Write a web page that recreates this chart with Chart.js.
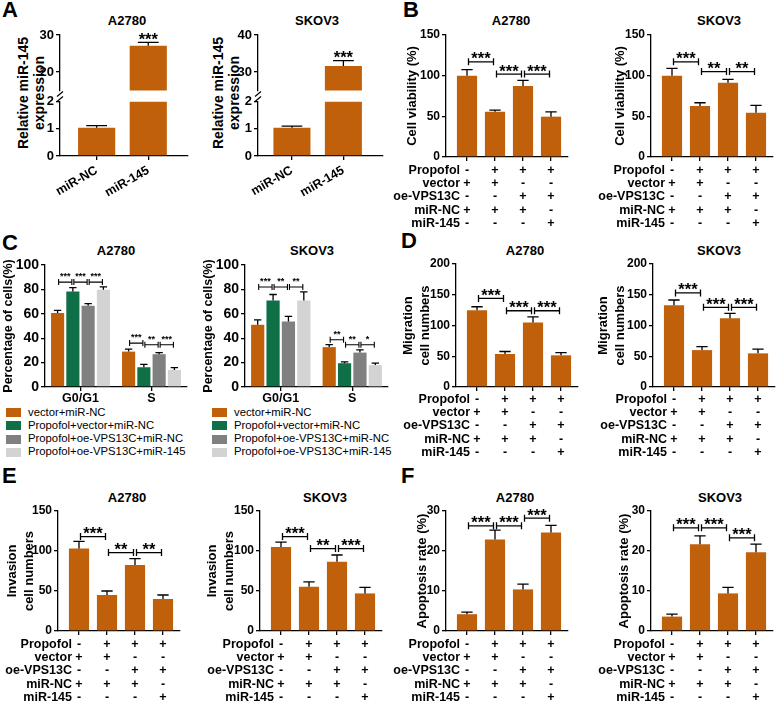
<!DOCTYPE html>
<html lang="en">
<head>
<meta charset="UTF-8" />
<title>Propofol / VPS13C / miR-145</title>
<script src="https://cdn.jsdelivr.net/npm/chart.js"></script>
<style>
  body { margin: 0; background: #fff; overflow: hidden; }
  #fig { position: relative; width: 778px; height: 702px; font-family: 'Liberation Sans', Arial, sans-serif; color: #000; }
  #fig canvas { position: absolute; }
  .t { position: absolute; white-space: nowrap; line-height: 1; font-weight: bold; }
</style>
</head>
<body>
<div id="fig"></div>
<script>
// ---------- data ----------
const ORANGE = '#C1600B';

// A: relative miR-145 expression (broken axis)
const aCats = ['miR-NC', 'miR-145'];
const aA2780 = [1.04, 27.1];
const aA2780Err = [0.08, 0.9];
const aSKOV3 = [1.04, 31.6];
const aSKOV3Err = [0.06, 1.5];
const aStars = ['', '***'];

// treatment table under B, D, E, F
const rowNames = ['Propofol', 'vector', 'oe-VPS13C', 'miR-NC', 'miR-145'];
const tableRows = [
  ['-', '+', '+', '+'],
  ['+', '+', '-', '-'],
  ['-', '-', '+', '+'],
  ['+', '+', '+', '-'],
  ['-', '-', '-', '+']
];

// B: cell viability
const bA2780 = [100, 55.7, 87.3, 49.6];
const bA2780Err = [7.5, 2, 7, 6];
const bSKOV3 = [100, 62.7, 91.4, 54.5];
const bSKOV3Err = [9, 4, 4, 9];
const bA2780Sig = [[0, 1, 117, '***'], [1, 2, 102, '***'], [2, 3, 102, '***']];
const bSKOV3Sig = [[0, 1, 117, '***'], [1, 2, 105, '**'], [2, 3, 105, '**']];

// C: cell cycle
const cPhases = ['G0/G1', 'S'];
const cGroups = ['vector+miR-NC', 'Propofol+vector+miR-NC', 'Propofol+oe-VPS13C+miR-NC', 'Propofol+oe-VPS13C+miR-145'];
const cColors = ['#C1600B', '#0F6F47', '#808080', '#D3D3D3'];
const cA2780 = [[60.6, 29], [78.2, 16.2], [66.7, 26.9], [79.8, 14]];
const cA2780Err = [[2.2, 2], [3.3, 2.4], [1.6, 1.3], [2.2, 1.9]];
const cSKOV3 = [[51, 32.7], [70.8, 19.5], [53.7, 28.2], [70.8, 18]];
const cSKOV3Err = [[4, 2], [5, 1.1], [4.2, 2.3], [7.2, 1.5]];
// [phase, group a, group b, y, label]
const cA2780Sig = [[0, 0, 1, 86, '***'], [0, 1, 2, 86, '***'], [0, 2, 3, 86, '***'],
                   [1, 0, 1, 36, '***'], [1, 1, 2, 34.6, '**'], [1, 2, 3, 34.6, '***']];
const cSKOV3Sig = [[0, 0, 1, 82, '***'], [0, 1, 2, 82, '**'], [0, 2, 3, 82, '**'],
                   [1, 0, 1, 38.7, '**'], [1, 1, 2, 34.6, '**'], [1, 2, 3, 34.6, '*']];

// D: migration
const dA2780 = [125, 53.7, 105, 51.5];
const dA2780Err = [5.5, 4, 9, 4.5];
const dSKOV3 = [133, 60, 111.7, 54.7];
const dSKOV3Err = [8.5, 5.5, 8, 7];
const dA2780Sig = [[0, 1, 144, '***'], [1, 2, 124, '***'], [2, 3, 124, '***']];
const dSKOV3Sig = [[0, 1, 153, '***'], [1, 2, 129.6, '***'], [2, 3, 129.6, '***']];

// E: invasion
const eA2780 = [103, 45, 82.5, 40];
const eA2780Err = [9, 5, 8, 5];
const eSKOV3 = [105, 55.4, 86.7, 47];
const eSKOV3Err = [6, 6, 8.3, 7.5];
const eA2780Sig = [[0, 1, 118, '***'], [1, 2, 98, '**'], [2, 3, 98, '**']];
const eSKOV3Sig = [[0, 1, 118, '***'], [1, 2, 103, '**'], [2, 3, 103, '***']];

// F: apoptosis
const fA2780 = [4.2, 22.9, 10.4, 24.6];
const fA2780Err = [0.5, 2.3, 1.3, 1.8];
const fSKOV3 = [3.6, 21.7, 9.4, 19.7];
const fSKOV3Err = [0.6, 2.1, 1.5, 2];
const fA2780Sig = [[0, 1, 26.3, '***'], [1, 2, 26.3, '***'], [2, 3, 28.2, '***']];
const fSKOV3Sig = [[0, 1, 25.8, '***'], [1, 2, 25.8, '***'], [2, 3, 23.3, '***']];

// ---------- setup ----------
const FONT = "'Liberation Sans', Arial, sans-serif";
const TABLE_SIZE = 12.5;
const TABLE_LH = 1.072;
const bigStar = { font: 'bold 16.5px ' + FONT, dy: 2.5, tick: 3.5, inset: 1.5, lw: 1.3 };
const smallStar = { font: 'bold 9px ' + FONT, dy: -3, tick: 3, inset: 1, lw: 1.1 };

Chart.defaults.font.family = FONT;
Chart.defaults.font.weight = 'bold';
Chart.defaults.color = '#000';
Chart.defaults.animation = false;
Chart.defaults.responsive = false;
Chart.defaults.plugins.legend.display = false;
Chart.defaults.plugins.tooltip.enabled = false;

const fig = document.getElementById('fig');

function addCanvas(left, top, w, h) {
  const c = document.createElement('canvas');
  c.width = w;
  c.height = h;
  c.style.left = left + 'px';
  c.style.top = top + 'px';
  c.style.width = w + 'px';
  c.style.height = h + 'px';
  fig.appendChild(c);
  return c;
}

function addText(str, x, y, css) {
  const el = document.createElement('div');
  el.className = 't';
  el.textContent = str;
  el.style.cssText = `left:${x}px;top:${y}px;` + (css || '');
  fig.appendChild(el);
  return el;
}

function vTitle(lines, cx, cy, size, lh) {
  const el = document.createElement('div');
  el.className = 't';
  el.style.cssText = `left:${cx}px;top:${cy}px;transform:translate(-50%,-50%) rotate(-90deg);` +
    `text-align:center;font-size:${size}px;line-height:${lh}px;`;
  el.innerHTML = lines.join('<br>');
  fig.appendChild(el);
}

function axisStyle(tickLen) {
  return {
    grid: { display: true, drawOnChartArea: false, drawTicks: true, tickLength: tickLen, color: '#000', lineWidth: 1.3, offset: false },
    border: { display: true, color: '#000', width: 1.3 }
  };
}

// error bars, significance brackets, table row names, axis break
function extras(cfg) {
  return {
    id: 'extras',
    afterDatasetsDraw(chart) {
      const ctx = chart.ctx, ys = chart.scales.y;
      const st = cfg.star || bigStar;
      ctx.save();
      ctx.strokeStyle = '#000';
      ctx.fillStyle = '#000';
      ctx.lineWidth = 1.3;
      chart.data.datasets.forEach((ds, d) => {
        if (!ds.errors) return;
        chart.getDatasetMeta(d).data.forEach((bar, i) => {
          const raw = ds.data[i];
          const v = raw !== null && typeof raw === 'object' ? raw.y : raw;
          if (v == null || v > ys.max || v < ys.min) return;
          const yBar = ys.getPixelForValue(v);
          const yTop = ys.getPixelForValue(v + ds.errors[i]);
          const half = bar.width * 0.28;
          ctx.beginPath();
          ctx.moveTo(bar.x, yBar);
          ctx.lineTo(bar.x, yTop);
          ctx.moveTo(bar.x - half, yTop);
          ctx.lineTo(bar.x + half, yTop);
          ctx.stroke();
          if (cfg.topStars && cfg.topStars[i]) {
            ctx.font = st.font;
            ctx.textAlign = 'center';
            ctx.textBaseline = 'alphabetic';
            ctx.fillText(cfg.topStars[i], bar.x, yTop + st.dy);
          }
        });
      });
      (cfg.sig || []).forEach(b => {
        let x1, x2, yv, label;
        if (b.length === 5) {
          x1 = chart.getDatasetMeta(b[1]).data[b[0]].x;
          x2 = chart.getDatasetMeta(b[2]).data[b[0]].x;
          yv = b[3]; label = b[4];
        } else {
          const els = chart.getDatasetMeta(0).data;
          x1 = els[b[0]].x; x2 = els[b[1]].x;
          yv = b[2]; label = b[3];
        }
        x1 += st.inset;
        x2 -= st.inset;
        const y = ys.getPixelForValue(yv);
        ctx.lineWidth = st.lw;
        ctx.beginPath();
        ctx.moveTo(x1, y); ctx.lineTo(x2, y);
        ctx.moveTo(x1, y - st.tick); ctx.lineTo(x1, y + st.tick);
        ctx.moveTo(x2, y - st.tick); ctx.lineTo(x2, y + st.tick);
        ctx.stroke();
        ctx.font = st.font;
        ctx.textAlign = 'center';
        ctx.textBaseline = 'alphabetic';
        ctx.fillText(label, (x1 + x2) / 2, y + st.dy);
      });
      ctx.restore();
    },
    afterDraw(chart) {
      const ctx = chart.ctx;
      ctx.save();
      ctx.fillStyle = '#000';
      ctx.strokeStyle = '#000';
      if (cfg.rows) {
        const xs = chart.scales.x;
        const lh = TABLE_SIZE * TABLE_LH;
        const y0 = xs.top + xs.options.grid.tickLength + xs.options.ticks.padding;
        const xr = xs.getPixelForValue(0) - 7;
        ctx.font = `bold ${TABLE_SIZE}px ${FONT}`;
        ctx.textAlign = 'right';
        ctx.textBaseline = 'middle';
        rowNames.forEach((n, r) => ctx.fillText(n, xr, y0 + lh * (r + 0.5)));
      }
      if (cfg.breakMark) {
        const x = chart.chartArea.left, y = chart.chartArea.bottom;
        ctx.lineWidth = 1.2;
        ctx.beginPath();
        [3.5, 8.5].forEach(dy => {
          ctx.moveTo(x - 3, y + dy + 2.5);
          ctx.lineTo(x + 3, y + dy - 2.5);
        });
        ctx.stroke();
      }
      ctx.restore();
    }
  };
}

// ---------- chart builders ----------
function brokenChart(o) {
  const yw = 30, left = o.axisX - yw;
  const width = Math.round(o.axisEnd + 4 - left);
  const padR = width - (o.axisEnd - left);
  const xBase = { type: 'linear', min: o.xMin, max: o.xMax, offset: false, ...axisStyle(4) };
  const yFit = s => { s.width = yw; s.paddingTop = 0; s.paddingBottom = 0; };
  const ds = data => [{
    data: data.map((v, i) => ({ x: i, y: v })), errors: o.errs,
    backgroundColor: ORANGE, barPercentage: 0.72, categoryPercentage: 1, clip: 0
  }];

  // upper segment
  const uTop = o.upTop - 8, uH = 76;
  new Chart(addCanvas(left, uTop, width, uH), {
    type: 'bar',
    data: { datasets: ds(o.values.map(v => (v >= o.upMin ? v : null))) },
    options: {
      layout: { padding: { top: 8, right: padR, bottom: uH - (o.upBottom - uTop), left: 0 } },
      scales: {
        x: { ...xBase, display: false, ticks: { stepSize: 1, includeBounds: false } },
        y: { min: o.upMin, max: o.upMax, ...axisStyle(4), ticks: { stepSize: 10, includeBounds: false, padding: 2, font: { size: 13 } }, afterFit: yFit }
      }
    },
    plugins: [extras({ breakMark: true, topStars: aStars })]
  });

  // lower segment
  const lTop = Math.floor(o.loTop - 8);
  const lH = Math.round(o.loBottom + 42 - lTop);
  new Chart(addCanvas(left, lTop, width, lH), {
    type: 'bar',
    data: { datasets: ds(o.values) },
    options: {
      layout: { padding: { top: o.loTop - lTop, right: padR, bottom: 0, left: 0 } },
      scales: {
        x: {
          ...xBase,
          ticks: {
            stepSize: 1, includeBounds: false, autoSkip: false, minRotation: 30, maxRotation: 30, padding: 3,
            font: { size: 12.5 }, callback: v => (Number.isInteger(v) ? aCats[v] : '')
          },
          afterFit: s => { s.height = lH - (o.loBottom - lTop); s.paddingLeft = 0; s.paddingRight = 0; }
        },
        y: { min: 0, max: 2, ...axisStyle(4), ticks: { stepSize: 1, padding: 2, font: { size: 13 } }, afterFit: yFit }
      }
    },
    plugins: [extras({})]
  });
}

function fourBar(o) {
  const titleLeft = o.titleX - o.titleLh / 2;
  const left = Math.max(0, Math.round(titleLeft - 75));
  const padL = titleLeft - left;
  const top = o.plotTop - 10;
  const axisLen = 122;
  const right = Math.round(o.axisX + axisLen + 6);
  const padR = right - (o.axisX + axisLen);
  const xh = 80;
  const xMin = -0.75, xMax = xMin + axisLen / 28;
  new Chart(addCanvas(left, top, right - left, o.plotBottom + xh - top), {
    type: 'bar',
    data: {
      datasets: [{
        data: o.values.map((v, i) => ({ x: i, y: v })), errors: o.errs,
        backgroundColor: ORANGE, barPercentage: 0.72, categoryPercentage: 1, clip: 0
      }]
    },
    options: {
      layout: { padding: { top: 10, right: padR, bottom: 0, left: padL } },
      scales: {
        x: {
          type: 'linear', min: xMin, max: xMax, offset: false, ...axisStyle(4),
          ticks: {
            stepSize: 1, includeBounds: false, autoSkip: false, maxRotation: 0, padding: o.rowPad,
            font: { size: TABLE_SIZE, lineHeight: TABLE_LH },
            callback: v => (Number.isInteger(v) && v >= 0 && v < 4 ? tableRows.map(r => r[v]) : '')
          },
          afterFit: s => { s.height = xh; s.paddingLeft = 0; s.paddingRight = 0; }
        },
        y: {
          min: 0, max: o.yMax, ...axisStyle(4),
          ticks: { stepSize: o.yStep, padding: 2, font: { size: 12 } },
          title: { display: true, text: o.title, padding: 0, font: { size: 13, lineHeight: o.titleLh / 13 } },
          afterFit: s => { s.width = o.axisX - left - padL; s.paddingTop = 0; s.paddingBottom = 0; }
        }
      }
    },
    plugins: [extras({ sig: o.sig, rows: true })]
  });
}

function cycleChart(o) {
  const titleLeft = o.titleX - 7.5;
  const left = Math.max(0, Math.floor(titleLeft));
  const padL = titleLeft - left;
  const top = o.plotTop - 10;
  const right = o.plotRight + 4;
  const xh = 22;
  new Chart(addCanvas(left, top, right - left, o.plotBottom + xh - top), {
    type: 'bar',
    data: {
      labels: cPhases,
      datasets: cGroups.map((g, k) => ({
        label: g, data: o.values[k], errors: o.errs[k], backgroundColor: cColors[k],
        barPercentage: 0.86, categoryPercentage: 0.86, clip: 0
      }))
    },
    options: {
      layout: { padding: { top: 10, right: 4, bottom: 0, left: padL } },
      scales: {
        x: {
          ...axisStyle(4), offset: true,
          ticks: { padding: 0, font: { size: 12.5 } },
          afterFit: s => { s.height = xh; s.paddingLeft = 0; s.paddingRight = 0; }
        },
        y: {
          min: 0, max: 100, ...axisStyle(4),
          ticks: { stepSize: 20, padding: 2, font: { size: 14 } },
          title: { display: true, text: 'Percentage of cells(%)', padding: 0, font: { size: 12.5, lineHeight: 1.2 } },
          afterFit: s => { s.width = o.axisX - left - padL; s.paddingTop = 0; s.paddingBottom = 0; }
        }
      }
    },
    plugins: [extras({ sig: o.sig, star: smallStar })]
  });
}

// ---------- panel letters and titles ----------
const letterCss = 'transform:translate(0,-50%);font-size:22px;';
addText('A', 2, 10, letterCss);
addText('B', 403, 10, letterCss);
addText('C', 2, 243, letterCss);
addText('D', 401, 241, letterCss);
addText('E', 2, 476, letterCss);
addText('F', 401, 476, letterCss);

const titleCss = 'transform:translate(-50%,-50%);font-size:13px;';
[[127, 20, 'A2780'], [317, 20, 'SKOV3'], [511, 20, 'A2780'], [719, 20, 'SKOV3'],
 [116, 250, 'A2780'], [312, 250, 'SKOV3'], [525, 250, 'A2780'], [719, 250, 'SKOV3'],
 [127, 497, 'A2780'], [325, 497, 'SKOV3'], [515, 497, 'A2780'], [720, 497, 'SKOV3']]
  .forEach(([x, y, s]) => addText(s, x, y, titleCss));

vTitle(['Relative miR-145', 'expression'], 31, 93, 14, 16);
vTitle(['Relative miR-145', 'expression'], 226, 93, 14, 16);

// C legend
cGroups.forEach((g, k) => {
  [[6, 28], [212, 234]].forEach(([sx, tx]) => {
    const y = 412.5 + k * 13.3;
    const sw = document.createElement('div');
    sw.style.cssText = `position:absolute;left:${sx}px;top:${y - 4.5}px;width:15px;height:9px;background:${cColors[k]}`;
    fig.appendChild(sw);
    addText(g, tx, y, 'transform:translate(0,-50%);font-weight:normal;font-size:11.3px;');
  });
});

// ---------- charts ----------
brokenChart({ axisX: 60, axisEnd: 188, xMin: -0.71, xMax: 1.77, values: aA2780, errs: aA2780Err,
  upMin: 15, upMax: 30, upTop: 35, upBottom: 90.5, loTop: 101.7, loBottom: 156 });
brokenChart({ axisX: 258, axisEnd: 383, xMin: -0.66, xMax: 1.77, values: aSKOV3, errs: aSKOV3Err,
  upMin: 25, upMax: 40, upTop: 35, upBottom: 90.5, loTop: 101.7, loBottom: 156 });

fourBar({ axisX: 446, plotTop: 35, plotBottom: 157, titleX: 412, titleLh: 15, title: 'Cell viability (%)',
  yMax: 150, yStep: 50, values: bA2780, errs: bA2780Err, sig: bA2780Sig, rowPad: 2.5 });
fourBar({ axisX: 651, plotTop: 35, plotBottom: 157, titleX: 620.5, titleLh: 15, title: 'Cell viability (%)',
  yMax: 150, yStep: 50, values: bSKOV3, errs: bSKOV3Err, sig: bSKOV3Sig, rowPad: 2.5 });

cycleChart({ axisX: 45, plotTop: 265, plotBottom: 387, plotRight: 187, titleX: 8.5,
  values: cA2780, errs: cA2780Err, sig: cA2780Sig });
cycleChart({ axisX: 245, plotTop: 265, plotBottom: 387, plotRight: 388, titleX: 209,
  values: cSKOV3, errs: cSKOV3Err, sig: cSKOV3Sig });

fourBar({ axisX: 456, plotTop: 264, plotBottom: 387, titleX: 408, titleLh: 17, title: ['Migration', 'cell numbers'],
  yMax: 200, yStep: 50, values: dA2780, errs: dA2780Err, sig: dA2780Sig, rowPad: 1.5 });
fourBar({ axisX: 653, plotTop: 264, plotBottom: 387, titleX: 603, titleLh: 17, title: ['Migration', 'cell numbers'],
  yMax: 200, yStep: 50, values: dSKOV3, errs: dSKOV3Err, sig: dSKOV3Sig, rowPad: 1.5 });

fourBar({ axisX: 58, plotTop: 511, plotBottom: 631, titleX: 12, titleLh: 17, title: ['Invasion', 'cell numbers'],
  yMax: 150, yStep: 50, values: eA2780, errs: eA2780Err, sig: eA2780Sig, rowPad: 2.5 });
fourBar({ axisX: 260, plotTop: 511, plotBottom: 631, titleX: 212, titleLh: 17, title: ['Invasion', 'cell numbers'],
  yMax: 150, yStep: 50, values: eSKOV3, errs: eSKOV3Err, sig: eSKOV3Sig, rowPad: 2.5 });

fourBar({ axisX: 446, plotTop: 511, plotBottom: 631, titleX: 422, titleLh: 15, title: 'Apoptosis rate (%)',
  yMax: 30, yStep: 10, values: fA2780, errs: fA2780Err, sig: fA2780Sig, rowPad: 2.5 });
fourBar({ axisX: 651, plotTop: 511, plotBottom: 631, titleX: 624, titleLh: 15, title: 'Apoptosis rate (%)',
  yMax: 30, yStep: 10, values: fSKOV3, errs: fSKOV3Err, sig: fSKOV3Sig, rowPad: 2.5 });
</script>
</body>
</html>
